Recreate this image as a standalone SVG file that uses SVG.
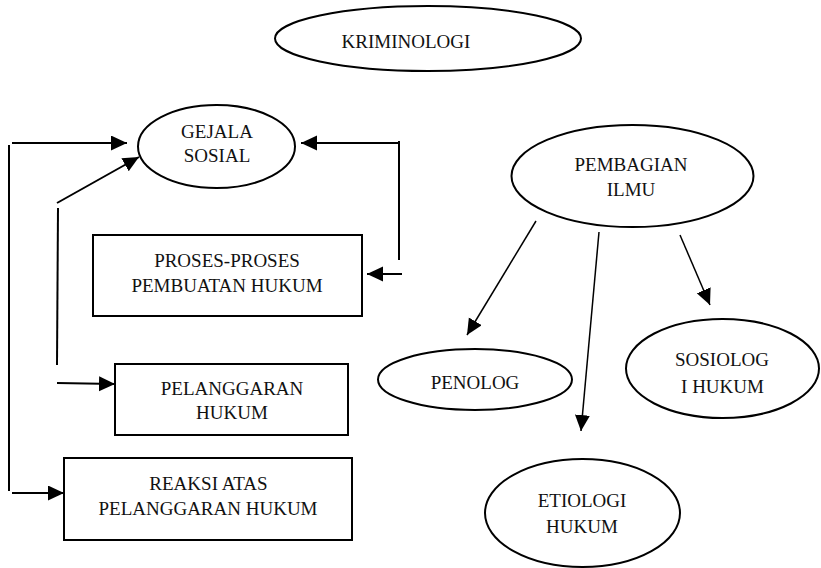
<svg xmlns="http://www.w3.org/2000/svg" width="821" height="568" viewBox="0 0 821 568">
<style>
.shape{fill:#fff;stroke:#000;stroke-width:2}
.t{font-family:"Liberation Serif","Times New Roman",serif;font-size:19px;fill:#111;text-anchor:middle}
.c{fill:none;stroke:#000;stroke-width:2}
.c2{fill:none;stroke:#000;stroke-width:1.5}
</style>
<defs>
<marker id="ah" markerUnits="userSpaceOnUse" markerWidth="17" markerHeight="16" refX="16" refY="7.5" orient="auto">
<path d="M0,0 L16,7.5 L0,15 Z" fill="#000"/>
</marker>
</defs>
<rect width="821" height="568" fill="#fff"/>
<g id="connectors">
<path class="c" d="M12,143 H127" marker-end="url(#ah)"/>
<path class="c" d="M9,145 V491"/>
<path class="c" d="M12,493 H64" marker-end="url(#ah)"/>
<path class="c" d="M57,203 L139,157" marker-end="url(#ah)"/>
<path class="c" d="M58,208 L57,365"/>
<path class="c" d="M57,383 L115,384" marker-end="url(#ah)"/>
<path class="c" d="M399,143 H301" marker-end="url(#ah)"/>
<path class="c" d="M399,141 V260"/>
<path class="c" d="M402,274 H367" marker-end="url(#ah)"/>
<path class="c2" d="M536,221 L467,335" marker-end="url(#ah)"/>
<path class="c2" d="M599,232 L581,431" marker-end="url(#ah)"/>
<path class="c2" d="M680,235 L710,305" marker-end="url(#ah)"/>
</g>
<g id="kriminologi">
<ellipse class="shape" cx="428" cy="38.5" rx="153" ry="32.5"/>
<text class="t" x="406" y="48">KRIMINOLOGI</text>
</g>
<g id="gejala">
<ellipse class="shape" cx="216.5" cy="146.5" rx="78.5" ry="41.5"/>
<text class="t" x="217" y="138">GEJALA</text>
<text class="t" x="217" y="162">SOSIAL</text>
</g>
<g id="proses">
<rect class="shape" x="93" y="235" width="269" height="81"/>
<text class="t" x="227" y="267">PROSES-PROSES</text>
<text class="t" x="227" y="292">PEMBUATAN HUKUM</text>
</g>
<g id="pelanggaran">
<rect class="shape" x="115" y="364" width="233" height="71"/>
<text class="t" x="232" y="395">PELANGGARAN</text>
<text class="t" x="232" y="419">HUKUM</text>
</g>
<g id="reaksi">
<rect class="shape" x="64" y="458" width="288" height="82"/>
<text class="t" x="208.5" y="490">REAKSI ATAS</text>
<text class="t" x="208" y="515">PELANGGARAN HUKUM</text>
</g>
<g id="pembagian">
<ellipse class="shape" cx="632.5" cy="176" rx="121" ry="51"/>
<text class="t" x="631" y="171">PEMBAGIAN</text>
<text class="t" x="631" y="196">ILMU</text>
</g>
<g id="penolog">
<ellipse class="shape" cx="475" cy="379.5" rx="97" ry="30.5"/>
<text class="t" x="475" y="389">PENOLOG</text>
</g>
<g id="sosiologi">
<ellipse class="shape" cx="722.5" cy="368.5" rx="96.5" ry="49.5"/>
<text class="t" x="722" y="366">SOSIOLOG</text>
<text class="t" x="722.5" y="393">I HUKUM</text>
</g>
<g id="etiologi">
<ellipse class="shape" cx="582.5" cy="513" rx="97.5" ry="54"/>
<text class="t" x="582" y="507">ETIOLOGI</text>
<text class="t" x="582" y="533">HUKUM</text>
</g>
</svg>
